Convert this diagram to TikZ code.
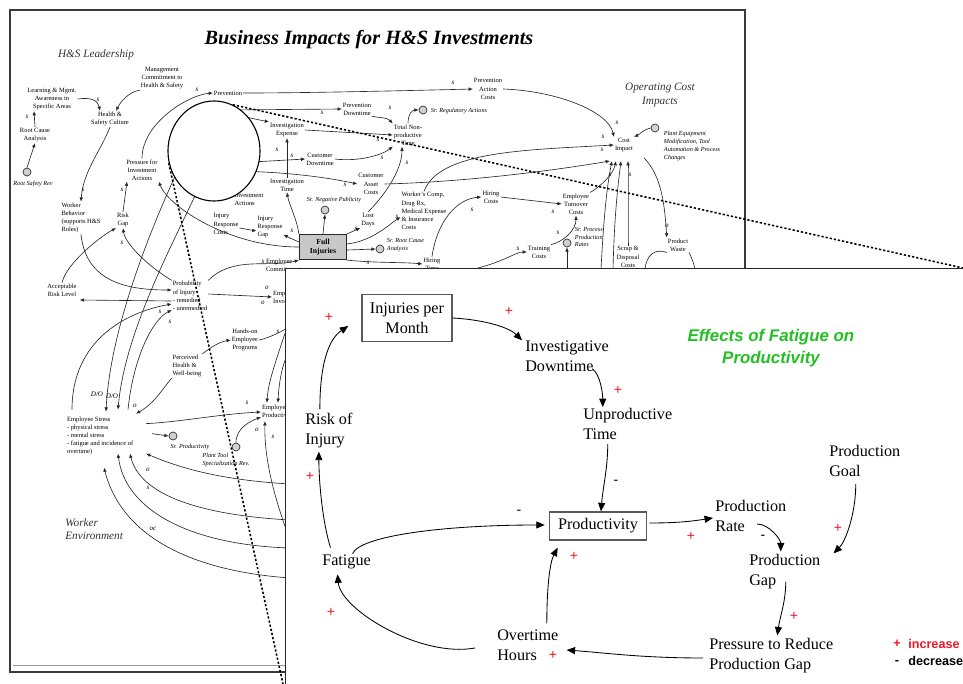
\documentclass[tikz,border=0pt]{standalone}
\usepackage{fontspec}
\setmainfont{Liberation Serif}
\setsansfont{Liberation Sans}
\usetikzlibrary{arrows.meta, shapes.geometric}
\definecolor{cgreen}{HTML}{22C022}
\definecolor{cred}{HTML}{F01828}
\definecolor{cframe}{HTML}{3A3A3A}
\definecolor{cboxfill}{HTML}{C8C8C8}
\newcommand{\bgtiny}{\fontsize{4.6}{5.8}\selectfont}
\newcommand{\cldfont}{\fontsize{11.5}{14.2}\selectfont}
\tikzset{
  every picture/.style={x=0.025cm, y=-0.025cm},
  % background sheet
  bvar/.style={font=\bgtiny, align=center, inner sep=0.6pt},
  bvarl/.style={bvar, align=left},
  bzone/.style={font=\itshape\fontsize{8}{9.5}\selectfont, text=black!80, align=center, inner sep=0pt},
  bsign/.style={font=\itshape\fontsize{5}{5}\selectfont, inner sep=0pt},
  bnote/.style={font=\itshape\fontsize{4.4}{5.6}\selectfont, align=left, inner sep=0.5pt},
  bmark/.style={circle, draw=black!80, fill=black!18, line width=0.5pt, minimum size=0.2cm, inner sep=0pt},
  blink/.style={-{Latex[length=3pt, width=2.6pt]}, line width=0.45pt, draw=black!85},
  bline/.style={line width=0.45pt, draw=black!85},
  bstock/.style={draw=black!85, fill=cboxfill, line width=0.9pt, font=\bfseries\fontsize{5.5}{6.2}\selectfont, align=center, minimum width=1.175cm, minimum height=0.625cm, inner sep=0pt},
  lens/.style={ellipse, draw=black, fill=white, line width=0.8pt, minimum width=2.3cm, minimum height=2.5cm, inner sep=0pt},
  zoomline/.style={line width=1.1pt, dash pattern=on 1.6pt off 1.4pt},
  % front sheet
  panel/.style={draw=black!85, fill=white, line width=1pt, minimum width=17.5cm, minimum height=11cm, inner sep=0pt},
  var/.style={font=\cldfont, align=left, inner sep=0pt, anchor=west},
  stock/.style={draw=black!65, line width=1pt, font=\cldfont, align=center, inner sep=0pt},
  link/.style={-{Triangle[length=6pt, width=5pt]}, line width=0.6pt},
  plus/.style={text=cred, font=\sffamily\fontsize{10}{10}\selectfont, inner sep=0pt},
  minus/.style={text=black, font=\sffamily\fontsize{10}{10}\selectfont, inner sep=0pt},
  ftitle/.style={text=cgreen, font=\sffamily\bfseries\itshape\fontsize{12}{15.6}\selectfont, align=center},
  legend/.style={font=\sffamily\bfseries\fontsize{9}{10}\selectfont, inner sep=0pt},
}

\begin{document}
\begin{tikzpicture}
  \useasboundingbox (0,0) rectangle (963,684);
  \clip (0,0) rectangle (963,684);

  % background sheet
  \draw[cframe, line width=1.4pt] (10,10) rectangle (745,672);
  \draw[black!40, line width=0.5pt] (13,665) -- (745,665);
  \node[font=\bfseries\itshape\fontsize{14.4}{17}\selectfont] (title) at (369,40) {Business Impacts for H\&S Investments};
  \node[bzone] (zlead) at (96,55) {H\&S Leadership};
  \node[bzone] (zcost) at (660,95) {Operating Cost\\Impacts};
  \node[bzone, align=left, anchor=west] (zwork) at (65,529) {Worker\\Environment};

  \node[bvar] (learn) at (52,99) {Learning \& Mgmt.\\Awareness in\\Specific Areas};
  \node[bvar] (mgmt) at (162,78) {Management\\Commitment to\\Health \& Safety};
  \node[bvar] (culture) at (110,119) {Health \&\\Safety Culture};
  \node[bvar] (rca) at (35,135) {Root Cause\\Analysis};
  \node[bmark] (rcam) at (27,172) {};
  \node[bnote] (rcal) at (33,184) {Root Safety Rev};
  \node[bvarl] (behav) at (81,218) {Worker\\Behavior\\(supports H\&S\\Roles)};
  \node[bvar] (riskgap) at (123,220) {Risk\\Gap};
  \node[bvar] (pinv) at (142,170) {Pressure for\\Investment\\Actions};
  \node[bvar] (prev) at (228,93) {Prevention};
  \node[bvar] (pacost) at (488,89) {Prevention\\Action\\Costs};
  \node[bvar] (pdown) at (357,109) {Prevention\\Downtime};
  \node[bmark] (regm) at (423,110) {};
  \node[bnote, anchor=west] (regl) at (430,111) {Sr. Regulatory Actions};
  \node[bvar] (tnpt) at (408,135) {Total Non-\\productive\\Time};
  \node[bvar] (invexp) at (287,130) {Investigation\\Expense};
  \node[bvar] (custdown) at (320,159) {Customer\\Downtime};
  \node[bvar] (custasset) at (371,184) {Customer\\Asset\\Costs};
  \node[bvar] (invtime) at (287,185) {Investigation\\Time};
  \node[bmark] (negm) at (325,210) {};
  \node[bnote] (negl) at (334,200) {Sr. Negative Publicity};
  \node[bvar] (lost) at (368,220) {Lost\\Days};
  \node[bstock] (full) at (323,247) {Full\\Injuries};
  \node[bvarl] (wcomp) at (424,211) {Worker's Comp,\\Drug Rx,\\Medical Expense\\\& Insurance\\Costs};
  \node[bmark] (rootm) at (380,249) {};
  \node[bnote, anchor=west] (rootl) at (386,245) {Sr. Root Cause\\Analysis};
  \node[bvar] (hire) at (491,197) {Hiring\\Costs};
  \node[bvar] (hire2) at (432,264) {Hiring\\Time};
  \node[bvar] (turn) at (576,204) {Employee\\Turnover\\Costs};
  \node[bmark] (procm) at (567,243) {};
  \node[bnote, anchor=west] (procl) at (574,237) {Sr. Process\\Production\\Rates};
  \node[bvar] (train) at (539,252) {Training\\Costs};
  \node[bvar] (cost) at (624,145) {Cost\\Impact};
  \node[bmark] (plantm) at (655,128) {};
  \node[bnote, anchor=west] (plantl) at (663,146) {Plant Equipment\\Modification, Tool\\Automation \& Process\\Changes};
  \node[bvar] (waste) at (678,245) {Product\\Waste};
  \node[bvar] (scrap) at (628,257) {Scrap \&\\Disposal\\Costs};
  \node[bvarl] (injcost) at (226,224) {Injury\\Response\\Costs};
  \node[bvarl] (injgap) at (270,227) {Injury\\Response\\Gap};
  \node[bvarl] (mgmtact) at (249,199) {Investment\\Actions};
  \node[bvar] (acc) at (62,290) {Acceptable\\Risk Level};
  \node[bvarl] (prob) at (190,296) {Probability\\of Injury\\- remedied\\- unremedied};
  \node[bvarl, anchor=west] (emp1) at (265,265) {Employee\\Commitment};
  \node[bvarl, anchor=west] (emp2) at (272,297) {Employee\\Involvement};
  \node[bvar] (hands) at (245,340) {Hands-on\\Employee\\Programs};
  \node[bvarl] (perc) at (187,366) {Perceived\\Health \&\\Well-being};
  \node[bvarl, anchor=west] (stress) at (66,436) {Employee Stress\\- physical stress\\- mental stress\\- fatigue and incidence of\\overtime)};
  \node[bvarl, anchor=west] (eprod) at (261,412) {Employee\\Productivity};
  \node[bmark] (prodm) at (173,436) {};
  \node[bnote] (prodl) at (190,447) {Sr. Productivity};
  \node[bmark] (toolm) at (236,447) {};
  \node[bnote] (tooll) at (226,460) {Plant Tool\\Specialization Rev.};
  \node[bsign] (do1) at (97,394) {D/O};
  \node[bsign] (do2) at (112,396) {D/O};

  % free ends of the sheet links
  \coordinate (hubB) at (226,110);
  \coordinate (hubC) at (222,112);
  \coordinate (hubD) at (235,163);
  \coordinate (hubE) at (235,171);
  \coordinate (hubF) at (178,170);
  \coordinate (hubG) at (200,185);
  \coordinate (trainsrc) at (470,270);
  \coordinate (procsrc) at (567,270);
  \coordinate (costsrcA) at (601,270);
  \coordinate (costsrcB) at (613,270);
  \coordinate (wasteL) at (645,270);
  \coordinate (wasteR) at (695,270);
  \coordinate (se1) at (290,484);
  \coordinate (se2) at (290,520);
  \coordinate (se3) at (290,548);
  \coordinate (se4) at (290,578);
  \coordinate (handsto) at (290,326);
  \coordinate (epsrc1) at (290,318);
  \coordinate (epsrc2) at (292,345);
  \coordinate (epsrc3) at (290,540);

  \draw[blink] (learn.east) .. controls +(14,-2) and +(-2,-10) .. ([shift={(-10,0)}]culture.north);
  \draw[blink] (mgmt.south west) .. controls +(-12,2) and +(4,-8) .. ([shift={(6,0)}]culture.north);
  \draw[blink] (rcam.north) -- (rca.south);
  \draw[blink] (rca.north) -- ([shift={(-18,0)}]learn.south);
  \draw[blink] (culture.south) .. controls +(-10,25) and +(2,-30) .. (behav.north);
  \draw[blink] (pinv.north) .. controls +(0,-35) and +(-25,2) .. (prev.west);
  \draw[blink] (prev.east) .. controls +(60,0) and +(-80,2) .. (pacost.west);
  \draw[blink] (pacost.east) .. controls +(55,2) and +(-5,-25) .. (cost.north west);
  \draw[blink] (hubB) -- (pdown.west);
  \draw[blink] (pdown.south east) .. controls +(12,2) and +(-6,-6) .. (tnpt.north west);
  \draw[blink] (tnpt.north) .. controls +(0,-10) and +(-6,0) .. (regm.west);
  \draw[blink] (hubC) -- (invexp.north west);
  \draw[blink] (invexp.east) -- (tnpt.west);
  \draw[blink] (hubD) -- (custdown.west);
  \draw[blink] (custdown.east) .. controls +(25,3) and +(-10,8) .. (tnpt.south west);
  \draw[blink] (hubE) .. controls (290,172) and (330,178) .. (custasset.west);
  \draw[blink] (custasset.east) .. controls +(80,-2) and +(-60,10) .. ([shift={(-4,8)}]cost.south west);
  \draw[blink] (wcomp.north) .. controls +(15,-40) and +(-90,5) .. (cost.west);
  \draw[blink] (invtime.north) -- (invexp.south);
  \draw[blink] (full.north west) .. controls +(-2,-15) and +(2,12) .. (invtime.south);
  \draw[blink] (full.north) -- (negm.south);
  \draw[blink] (full.north east) -- (lost.south west);
  \draw[blink] (lost.north) .. controls +(15,-15) and +(0,25) .. ([shift={(-6,0)}]tnpt.south);
  \draw[blink] ([shift={(0,-3)}]full.east) .. controls +(25,-3) and +(-12,8) .. ([shift={(0,6)}]wcomp.west);
  \draw[blink] ([shift={(0,3)}]full.east) -- (rootm.west);
  \draw[blink] (full.south east) .. controls +(30,3) and +(-20,-2) .. (hire2.west);
  \draw[blink] (hire2.north) .. controls +(5,-35) and +(-25,2) .. (hire.west);
  \draw[blink] (hire.east) -- (turn.west);
  \draw[blink] (train.north east) .. controls +(12,-3) and +(0,15) .. (turn.south);
  \draw[blink] (trainsrc) .. controls (505,262) and (515,252) .. (train.west);
  \draw[blink] (procsrc) -- (procm.south);
  \draw[blink] (turn.north east) .. controls +(10,-6) and +(-3,14) .. ([shift={(-8,8)}]cost.south);
  \draw[blink] (costsrcA) .. controls (603,230) and (606,190) .. ([shift={(-12,8)}]cost.south);
  \draw[blink] (costsrcB) .. controls (614,230) and (616,200) .. ([shift={(-3,8)}]cost.south);
  \draw[blink] (scrap.north) .. controls +(0,-30) and +(0,30) .. ([shift={(4,8)}]cost.south);
  \draw[blink] ([shift={(10,5)}]cost.south east) .. controls +(18,18) and +(-2,-30) .. (waste.north west);
  \draw[blink] (plantm.west) .. controls +(-8,2) and +(6,-3) .. (cost.north east);
  \draw[bline] (wasteL) .. controls (646,255) and (655,248) .. (waste.south west);
  \draw[bline] (waste.south east) .. controls (690,255) and (694,262) .. (wasteR);

  \draw[blink] ([shift={(0,5)}]prob.west) -- ([shift={(2,10)}]acc.east);
  \draw[blink] (behav.south) .. controls +(5,50) and +(-40,0) .. ([shift={(0,-6)}]prob.west);
  \draw[blink] ([shift={(6,-6)}]stress.north west) .. controls +(0,-70) and +(-45,8) .. ([shift={(0,8)}]prob.west);
  \draw[blink] ([shift={(62,-6)}]stress.north west) .. controls +(5,-50) and +(-20,10) .. ([shift={(0,14)}]prob.west);
  \draw[blink] (hubF) .. controls (150,230) and (110,330) .. ([shift={(40,-4)}]stress.north west);
  \draw[blink] (hubG) .. controls (175,240) and (125,330) .. ([shift={(52,-6)}]stress.north west);
  \draw[blink] (perc.south west) .. controls +(-10,12) and +(18,-10) .. ([shift={(70,-2)}]stress.north west);
  \draw[blink] (perc.north east) .. controls +(8,-6) and +(-12,2) .. (hands.west);
  \draw[blink] ([shift={(80,8)}]stress.north west) .. controls (180,422) and (220,414) .. (eprod.west);
  \draw[blink] ([shift={(86,18)}]stress.north west) -- (prodm.west);
  \draw[blink] (toolm.north) .. controls +(0,-15) and +(-10,4) .. ([shift={(0,5)}]eprod.west);
  \draw[blink] (se1) .. controls (220,480) and (180,468) .. ([shift={(80,38)}]stress.north west);
  \draw[blink] (se2) .. controls (200,515) and (140,495) .. ([shift={(64,38)}]stress.north west);
  \draw[blink] (se3) .. controls (190,545) and (125,510) .. ([shift={(52,38)}]stress.north west);
  \draw[blink] (se4) .. controls (180,570) and (120,530) .. ([shift={(38,52)}]stress.north west);
  \draw[bline] (hands.east) .. controls +(10,-2) and +(-5,4) .. (handsto);
  \draw[blink] ([shift={(0,-2)}]prob.east) -- (emp2.west);
  \draw[blink] (prob.north east) .. controls +(25,-25) and +(-30,8) .. (full.south west);
  \draw[blink] (epsrc1) .. controls (280,350) and (268,380) .. ([shift={(6,-1)}]eprod.north west);
  \draw[blink] (epsrc2) .. controls (283,360) and (279,380) .. ([shift={(17,-1)}]eprod.north west);
  \draw[blink] (epsrc3) .. controls (275,500) and (264,460) .. ([shift={(4,1)}]eprod.south west);
  \draw[blink] (riskgap.north) -- ([shift={(-15,0)}]pinv.south);
  \draw[blink] (prob.north west) .. controls +(-25,-15) and +(2,15) .. (riskgap.south);
  \draw[blink] (acc.north) .. controls +(5,-20) and +(-15,8) .. (riskgap.south west);
  \draw[blink] (full.west) .. controls +(-70,0) and +(10,25) .. (pinv.south east);
  \draw[blink] ([shift={(0,4)}]injcost.east) -- ([shift={(0,4)}]injgap.west);
  \draw[blink] ([shift={(0,-5)}]full.west) -- ([shift={(0,8)}]injgap.east);

  \foreach \px/\py/\pl [count=\i] in {27/117/s, 98/100/s, 197/90/s, 322/113/s, 277/150/s, 292/156/s,
      83/190/s, 122/190/s, 122/243/s, 292/231/s, 263/262/s, 453/83/s, 390/108/s, 378/140/s,
      382/158/s, 345/185/s, 407/163/s, 356/229/s, 397/217/s, 368/263/s, 472/210/s, 553/212/s,
      518/249/s, 558/233/s, 617/123/s, 603/137/s, 602/150/s, 610/175/s, 630/175/s, 667/226/o,
      160/312/s, 170/322/s, 278/332/s, 135/406/o, 247/403/s, 257/430/o, 263/303/o, 267/288/o,
      148/470/o, 148/488/s, 153/529/oc, 273/437/s}
    \node[bsign] (pol\i) at (\px,\py) {\pl};

  % magnifier
  \node[lens] (lens) at (214,151) {};
  \coordinate (ptr) at (963,268);
  \coordinate (pbl) at (283,684);
  \draw[zoomline] (lens.68) -- (ptr);
  \draw[zoomline] (lens.195) -- (pbl);

  % front sheet
  \node[panel, anchor=north west] (panel) at (285,268) {};
  \node[ftitle] (ftitle) at (771,348) {Effects of Fatigue on\\Productivity};

  \node[stock, minimum width=2.25cm, minimum height=1.175cm] (inj) at (407,318) {Injuries per\\Month};
  \node[var] (invd) at (525,356) {Investigative\\Downtime};
  \node[var] (unpr) at (583,424) {Unproductive\\Time};
  \node[stock, minimum width=2.43cm, minimum height=0.7cm] (prod) at (598,526) {Productivity};
  \node[var] (prate) at (715,516) {Production\\Rate};
  \node[var] (pgap) at (749,572) {Production\\Gap};
  \node[var] (pgoal) at (829,461) {Production\\Goal};
  \node[var] (press) at (709,656) {Pressure to Reduce\\Production Gap};
  \node[var] (over) at (497,645) {Overtime\\Hours};
  \node[var] (fat) at (322,562) {Fatigue};
  \node[var] (risk) at (305,431) {Risk of\\Injury};

  \draw[link] (inj.east) .. controls +(35,2) and +(-12,-12) .. ([shift={(-3,0)}]invd.north west);
  \draw[link] ([shift={(-17,-3)}]invd.south east) .. controls +(8,5) and +(0,-14) .. ([shift={(-25,-1)}]unpr.north);
  \draw[link] ([shift={(-20,4)}]unpr.south) .. controls +(0,25) and +(2,-25) .. ([shift={(3,0)}]prod.north);
  \draw[link] ([shift={(2,-3)}]prod.east) .. controls +(30,0) and +(-20,3) .. ([shift={(-2,2)}]prate.west);
  \draw[link] ([shift={(42,8)}]prate.west) .. controls +(12,0) and +(0,-12) .. ([shift={(-4,-3)}]pgap.north);
  \draw[link] ([shift={(-9,7)}]pgoal.south) .. controls +(0,30) and +(12,-12) .. ([shift={(13,-1)}]pgap.north east);
  \draw[link] ([shift={(1,-8)}]pgap.south) .. controls +(0,20) and +(3,-20) .. ([shift={(6,-3)}]press.north);
  \draw[link] ([shift={(-6,2)}]press.west) .. controls +(-60,0) and +(40,3) .. ([shift={(8,5)}]over.east);
  \draw[link] ([shift={(19,-6)}]over.north) .. controls +(0,-35) and +(-8,15) .. ([shift={(9,7)}]prod.south west);
  \draw[link] ([shift={(-22,3)}]over.west) .. controls +(-55,10) and +(3,35) .. ([shift={(-9,5)}]fat.south);
  \draw[link] ([shift={(6,-1)}]fat.north) .. controls +(8,-18) and +(-100,0) .. ([shift={(-4,-1)}]prod.west);
  \draw[link] ([shift={(-16,-7)}]fat.north) .. controls +(-8,-25) and +(0,30) .. ([shift={(-10,3)}]risk.south);
  \draw[link] ([shift={(-9,-4)}]risk.north) .. controls +(0,-50) and +(-18,12) .. ([shift={(-13,8)}]inj.west);

  \foreach \px/\py [count=\i] in {329/317, 509/311, 618/390, 691/536, 838/528, 794/616, 553/655, 574/556, 331/612, 310/476}
    \node[plus] (plus\i) at (\px,\py) {+};
  \foreach \px/\py [count=\i] in {616/482, 519/512, 763/537}
    \node[minus] (minus\i) at (\px,\py) {-};

  % legend
  \node[legend, text=cred] (legp) at (897,644) {+};
  \node[legend, text=cred, anchor=west] (legi) at (908,644) {increase};
  \node[legend] (legm) at (897,662) {-};
  \node[legend, anchor=west] (legd) at (908,661) {decrease};
\end{tikzpicture}
\end{document}
